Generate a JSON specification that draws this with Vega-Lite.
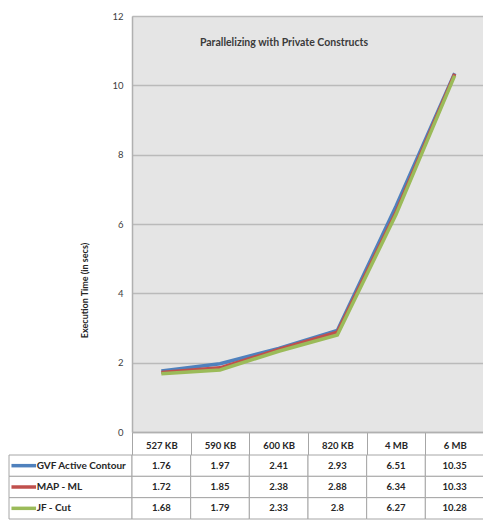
{
  "$schema": "https://vega.github.io/schema/vega-lite/v6.json",
  "padding": {"left": 8, "top": 11, "right": 0, "bottom": 0},
  "background": "white",
  "config": {
    "view": {"stroke": null},
    "font": "Lato"
  },
  "datasets": {
    "times": [
      {"series": "GVF Active Contour", "size": "527 KB", "time": 1.76},
      {"series": "GVF Active Contour", "size": "590 KB", "time": 1.97},
      {"series": "GVF Active Contour", "size": "600 KB", "time": 2.41},
      {"series": "GVF Active Contour", "size": "820 KB", "time": 2.93},
      {"series": "GVF Active Contour", "size": "4 MB", "time": 6.51},
      {"series": "GVF Active Contour", "size": "6 MB", "time": 10.35},
      {"series": "MAP - ML", "size": "527 KB", "time": 1.72},
      {"series": "MAP - ML", "size": "590 KB", "time": 1.85},
      {"series": "MAP - ML", "size": "600 KB", "time": 2.38},
      {"series": "MAP - ML", "size": "820 KB", "time": 2.88},
      {"series": "MAP - ML", "size": "4 MB", "time": 6.34},
      {"series": "MAP - ML", "size": "6 MB", "time": 10.33},
      {"series": "JF - Cut", "size": "527 KB", "time": 1.68},
      {"series": "JF - Cut", "size": "590 KB", "time": 1.79},
      {"series": "JF - Cut", "size": "600 KB", "time": 2.33},
      {"series": "JF - Cut", "size": "820 KB", "time": 2.8},
      {"series": "JF - Cut", "size": "4 MB", "time": 6.27},
      {"series": "JF - Cut", "size": "6 MB", "time": 10.28}
    ],
    "seriesList": [
      {"series": "GVF Active Contour"},
      {"series": "MAP - ML"},
      {"series": "JF - Cut"}
    ]
  },
  "columns": 2,
  "spacing": {"row": 23, "column": 0},
  "bounds": "flush",
  "align": "each",
  "concat": [
    {
      "width": 123,
      "height": 416,
      "data": {"values": [{"t": ""}]},
      "mark": "text",
      "encoding": {"text": {"field": "t"}}
    },
    {
      "width": 352,
      "height": 416,
      "view": {"fill": "#e5e5e5", "stroke": null},
      "data": {"name": "times"},
      "title": {
        "text": "Parallelizing with Private Constructs",
        "orient": "top",
        "anchor": "middle",
        "offset": -37,
        "dx": -24,
        "fontSize": 10.5,
        "fontWeight": "bold",
        "color": "#3a3a3a"
      },
      "mark": {"type": "line", "strokeWidth": 3.5},
      "encoding": {
        "x": {
          "field": "size",
          "type": "ordinal",
          "bandPosition": 0.5,
          "scale": {
            "type": "band",
            "domain": ["527 KB", "590 KB", "600 KB", "820 KB", "4 MB", "6 MB"],
            "paddingInner": 0,
            "paddingOuter": 0
          },
          "axis": {
            "title": null,
            "labelAngle": 0,
            "grid": false,
            "tickBand": "extent",
            "tickSize": 23,
            "tickColor": "#a6a6a6",
            "domainColor": "#b0b0b0",
            "domainWidth": 1.5,
            "labelPadding": -15,
            "labelFontSize": 9.5,
            "labelFontWeight": "bold",
            "labelColor": "#262626"
          }
        },
        "y": {
          "field": "time",
          "type": "quantitative",
          "scale": {"domain": [0, 12]},
          "axis": {
            "values": [0, 2, 4, 6, 8, 10, 12],
            "title": "Execution Time (in secs)",
            "titleX": -48,
            "titleY": 274,
            "titleBaseline": "middle",
            "titleFontSize": 9,
            "titleFontWeight": "bold",
            "titleColor": "#262626",
            "ticks": false,
            "labelPadding": 9,
            "labelFontSize": 9.5,
            "labelColor": "#404040",
            "domainColor": "#b0b0b0",
            "domainWidth": 1.5,
            "gridColor": "#bababa",
            "gridWidth": 1.5
          }
        },
        "color": {
          "field": "series",
          "type": "nominal",
          "scale": {
            "domain": ["GVF Active Contour", "MAP - ML", "JF - Cut"],
            "range": ["#4f81bd", "#c0504d", "#9bbb59"]
          },
          "legend": null
        }
      }
    },
    {
      "width": 123,
      "height": 64,
      "data": {"name": "seriesList"},
      "layer": [
        {
          "mark": {"type": "rect", "fill": "white", "stroke": "#a6a6a6", "strokeWidth": 1},
          "encoding": {
            "x": {"datum": 0, "type": "quantitative", "scale": {"domain": [0, 1]}, "axis": null},
            "x2": {"datum": 1},
            "y": {
              "field": "series",
              "type": "nominal",
              "scale": {"domain": ["GVF Active Contour", "MAP - ML", "JF - Cut"], "paddingInner": 0, "paddingOuter": 0},
              "axis": null
            }
          }
        },
        {
          "mark": {"type": "rule", "strokeWidth": 3.5},
          "encoding": {
            "x": {"datum": 0.02, "type": "quantitative"},
            "x2": {"datum": 0.22},
            "y": {"field": "series", "type": "nominal", "bandPosition": 0.5},
            "color": {
              "field": "series",
              "type": "nominal",
              "scale": {
                "domain": ["GVF Active Contour", "MAP - ML", "JF - Cut"],
                "range": ["#4f81bd", "#c0504d", "#9bbb59"]
              },
              "legend": null
            }
          }
        },
        {
          "mark": {"type": "text", "align": "left", "baseline": "middle", "fontSize": 10, "fontWeight": "bold", "color": "#262626"},
          "encoding": {
            "x": {"datum": 0.225, "type": "quantitative"},
            "y": {"field": "series", "type": "nominal", "bandPosition": 0.5},
            "text": {"field": "series"}
          }
        }
      ]
    },
    {
      "width": 352,
      "height": 64,
      "data": {"name": "times"},
      "encoding": {
        "x": {
          "field": "size",
          "type": "ordinal",
          "scale": {
            "type": "band",
            "domain": ["527 KB", "590 KB", "600 KB", "820 KB", "4 MB", "6 MB"],
            "paddingInner": 0,
            "paddingOuter": 0
          },
          "axis": null
        },
        "y": {
          "field": "series",
          "type": "nominal",
          "scale": {"domain": ["GVF Active Contour", "MAP - ML", "JF - Cut"], "paddingInner": 0, "paddingOuter": 0},
          "axis": null
        }
      },
      "layer": [
        {"mark": {"type": "rect", "fill": "white", "stroke": "#a6a6a6", "strokeWidth": 1}},
        {
          "mark": {"type": "text", "baseline": "middle", "fontSize": 9.5, "fontWeight": "bold", "color": "#262626"},
          "encoding": {"text": {"field": "time", "type": "nominal"}}
        }
      ]
    }
  ]
}
